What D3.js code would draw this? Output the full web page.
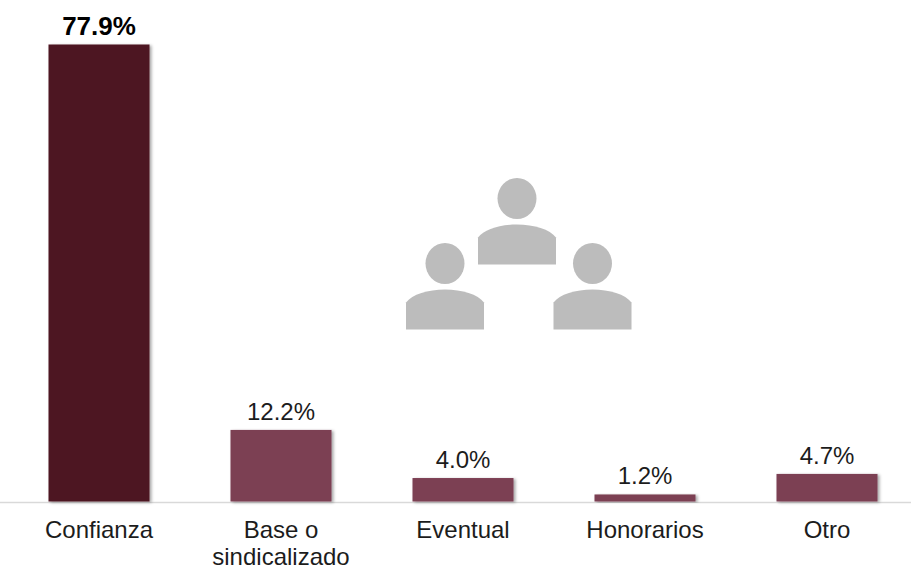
<!DOCTYPE html>
<html lang="es">
<head>
  <meta charset="UTF-8">
  <title>Tipo de contratación</title>
  <style>
    body {
      font-family: 'Liberation Sans', Arial, sans-serif;
      margin: 0;
      padding: 0;
      background: #fff;
    }
    svg {
      display: block;
    }
    text {
      font-size: 24px;
      fill: #1c1c1c;
    }
  </style>
</head>
<body>

<script src="https://d3js.org/d3.v7.min.js"></script>

<script>
  const categories = ['Confianza', 'Base o|sindicalizado', 'Eventual', 'Honorarios', 'Otro'];
  const values = [77.9, 12.2, 4.0, 1.2, 4.7];
  const barColors = ['#4e1324', '#7c3f52', '#7c3f52', '#7c3f52', '#7c3f52'];

  const width = 911;
  const height = 568;
  const baseline = 501.5;

  const svg = d3.select('body').append('svg')
    .attr('width', width)
    .attr('height', height);

  // Soft shadow on the bars, down and to the right
  const shadow = svg.append('defs').append('filter')
    .attr('id', 'barShadow')
    .attr('x', '-10%').attr('y', '-10%')
    .attr('width', '125%').attr('height', '125%');
  shadow.append('feDropShadow')
    .attr('dx', 2).attr('dy', 1)
    .attr('stdDeviation', 1.5)
    .attr('flood-color', '#000')
    .attr('flood-opacity', 0.35);

  const x = d3.scaleBand()
    .domain(categories)
    .range([8, 918])
    .paddingInner(0.445)
    .paddingOuter(0.2225);

  const y = d3.scaleLinear()
    .domain([0, 77.9])
    .range([baseline, 44.5]);

  // Axis line
  svg.append('line')
    .attr('x1', 0)
    .attr('x2', width)
    .attr('y1', 502.5)
    .attr('y2', 502.5)
    .attr('stroke', '#d9d9d9')
    .attr('stroke-width', 1.5);

  // Bars
  svg.selectAll('rect.bar')
    .data(values)
    .enter().append('rect')
    .attr('class', 'bar')
    .attr('x', (d, i) => x(categories[i]))
    .attr('y', d => y(d))
    .attr('width', x.bandwidth())
    .attr('height', d => baseline - y(d))
    .attr('fill', (d, i) => barColors[i])
    .attr('filter', 'url(#barShadow)');

  // Value labels, only the first one is bold and larger
  svg.selectAll('text.value')
    .data(values)
    .enter().append('text')
    .attr('class', 'value')
    .attr('x', (d, i) => x(categories[i]) + x.bandwidth() / 2)
    .attr('y', d => y(d) - 10)
    .attr('text-anchor', 'middle')
    .style('font-weight', (d, i) => i === 0 ? 'bold' : 'normal')
    .style('font-size', (d, i) => i === 0 ? '26px' : '24px')
    .style('fill', (d, i) => i === 0 ? '#000' : '#1c1c1c')
    .text(d => d.toFixed(1) + '%');

  // Category labels, | marks a line break
  const labels = svg.selectAll('text.category')
    .data(categories)
    .enter().append('text')
    .attr('class', 'category')
    .attr('text-anchor', 'middle');

  labels.selectAll('tspan')
    .data(d => d.split('|').map(line => ({ line, cat: d })))
    .enter().append('tspan')
    .attr('x', d => x(d.cat) + x.bandwidth() / 2)
    .attr('y', (d, i) => 538 + i * 27)
    .text(d => d.line);

  // People icon in the middle of the chart
  function person(g) {
    g.append('ellipse')
      .attr('cx', 39)
      .attr('cy', -26)
      .attr('rx', 19.5)
      .attr('ry', 20.5);
    g.append('path')
      .attr('d', 'M0,40 L0,13 C6,5 22,0 39,0 C56,0 72,5 78,13 L78,40 Z');
  }

  const icon = svg.append('g').attr('fill', '#bcbcbc');
  [[478, 224.5], [406, 289.5], [553.5, 289.5]].forEach(p => {
    icon.append('g')
      .attr('transform', `translate(${p[0]},${p[1]})`)
      .call(person);
  });
</script>

</body>
</html>
